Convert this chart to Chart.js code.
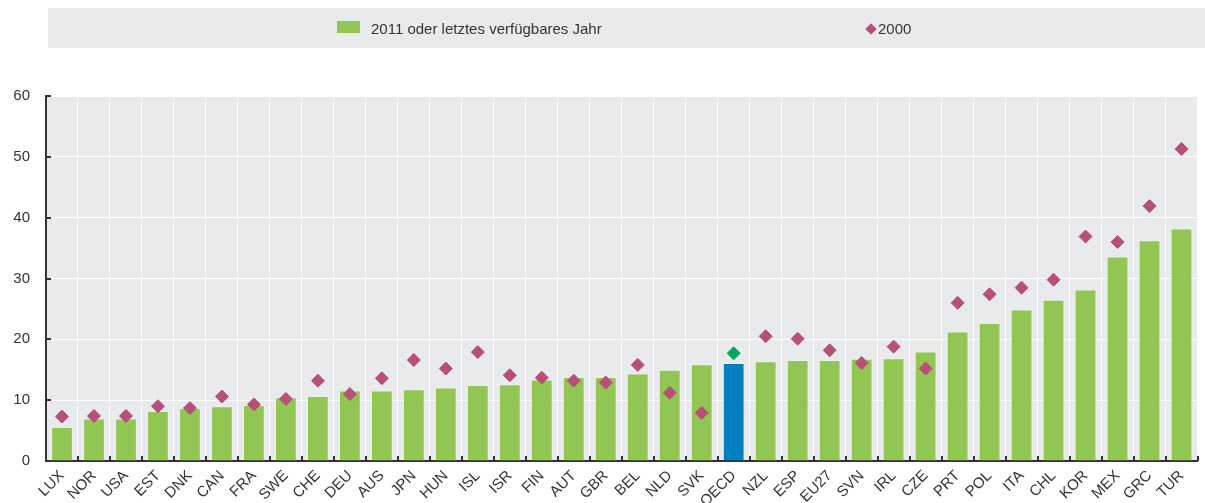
<!DOCTYPE html>
<html>
<head>
<meta charset="utf-8">
<script src="https://cdn.jsdelivr.net/npm/chart.js@4.4.1/dist/chart.umd.min.js"></script>
<style>
	body { margin: 0; background: #fff; }
	#wrap { position: relative; width: 1205px; height: 503px; overflow: hidden; }
	#chart { position: absolute; left: 0; top: 0; }
	#legend {
		position: absolute; left: 48px; top: 8px; width: 1157px; height: 40px;
		background: #e9eaec;
		font-family: "Liberation Sans", Arial, sans-serif;
		font-size: 15px; color: #333;
	}
	.item { position: absolute; top: 1px; height: 40px; line-height: 40px; white-space: nowrap; }
	.box { position: absolute; left: 289px; top: 13px; width: 23px; height: 12px; background: #92c653; }
	.dia { position: absolute; left: 819px; top: 17px; width: 8px; height: 8px; background: #b84f78; transform: rotate(45deg); }
</style>
</head>
<body>
<div id="wrap">
	<canvas id="chart" width="1205" height="503"></canvas>
	<div id="legend">
		<div class="box"></div>
		<div class="item" style="left:323px">2011 oder letztes verfügbares Jahr</div>
		<div class="dia"></div>
		<div class="item" style="left:830px">2000</div>
	</div>
</div>
<script>
const categories = ['LUX', 'NOR', 'USA', 'EST', 'DNK', 'CAN', 'FRA', 'SWE', 'CHE', 'DEU', 'AUS', 'JPN',
	'HUN', 'ISL', 'ISR', 'FIN', 'AUT', 'GBR', 'BEL', 'NLD', 'SVK', 'OECD', 'NZL', 'ESP',
	'EU27', 'SVN', 'IRL', 'CZE', 'PRT', 'POL', 'ITA', 'CHL', 'KOR', 'MEX', 'GRC', 'TUR'];

// 2011 oder letztes verfügbares Jahr
const values2011 = [5.6, 7.0, 7.0, 8.2, 8.7, 9.0, 9.2, 10.5, 10.7, 11.6, 11.6, 11.8,
	12.1, 12.5, 12.6, 13.4, 13.8, 13.8, 14.4, 15.0, 15.9, 16.1, 16.4, 16.6,
	16.6, 16.8, 16.9, 18.0, 21.3, 22.7, 24.9, 26.5, 28.2, 33.6, 36.3, 38.2];

// 2000
const values2000 = [7.3, 7.4, 7.4, 9.0, 8.7, 10.6, 9.3, 10.2, 13.2, 11.0, 13.6, 16.6,
	15.2, 17.9, 14.1, 13.7, 13.2, 12.9, 15.8, 11.2, 7.9, 17.7, 20.5, 20.1,
	18.2, 16.1, 18.8, 15.2, 26.0, 27.4, 28.5, 29.8, 36.9, 36.0, 41.9, 51.3];

const yTicks = [0, 10, 20, 30, 40, 50, 60];

const FONT = "'Liberation Sans', Arial, sans-serif";
const DARK = '#333333';

const barColors = categories.map(c => c === 'OECD' ? '#0080bf' : '#92c653');
const dotColors = categories.map(c => c === 'OECD' ? '#00a65e' : '#b84f78');

// grey plot background + short inward tick marks
const plotDeco = {
	id: 'plotDeco',
	beforeDraw(chart)
	{
		const a = chart.chartArea;
		const ctx = chart.ctx;
		ctx.save();
		ctx.fillStyle = '#e9eaec';
		ctx.fillRect(a.left, a.top, a.right - a.left, a.bottom - a.top);
		ctx.restore();
	},
	afterDatasetsDraw(chart)
	{
		const a = chart.chartArea;
		const ctx = chart.ctx;
		const xs = chart.scales.x;
		const ys = chart.scales.y;
		const step = xs.width / categories.length;
		ctx.save();
		ctx.strokeStyle = DARK;
		ctx.lineWidth = 2;
		ctx.beginPath();
		for (let i = 1; i <= categories.length; i++)
		{
			const x = Math.round(xs.getPixelForTick(i - 1) + step / 2);
			ctx.moveTo(x, a.bottom);
			ctx.lineTo(x, a.bottom - 5);
		}
		yTicks.forEach(v =>
		{
			const y = Math.round(ys.getPixelForValue(v));
			ctx.moveTo(a.left, y);
			ctx.lineTo(a.left + 5, y);
		});
		ctx.stroke();
		ctx.restore();
	}
};

new Chart(document.getElementById('chart'),
{
	data:
	{
		labels: categories,
		datasets: [
			{
				type: 'line',
				label: '2000',
				data: values2000,
				showLine: false,
				pointStyle: 'rectRot',
				pointRadius: 6.5,
				pointBorderWidth: 1,
				pointBackgroundColor: dotColors,
				pointBorderColor: dotColors,
				order: 0
			},
			{
				type: 'bar',
				label: '2011 oder letztes verfügbares Jahr',
				data: values2011,
				backgroundColor: barColors,
				borderColor: 'rgba(255,255,255,0.25)',
				borderWidth: 1,
				barPercentage: 0.68,
				categoryPercentage: 1.0,
				order: 1
			}
		]
	},
	options:
	{
		responsive: false,
		animation: false,
		layout: { padding: { top: 96, right: 0, left: 0, bottom: 0 } },
		plugins:
		{
			legend: { display: false },
			tooltip: { enabled: false }
		},
		scales:
		{
			x:
			{
				offset: true,
				grid: { color: '#ffffff', lineWidth: 1, offset: true, drawTicks: false },
				border: { color: DARK, width: 2 },
				ticks:
				{
					color: DARK,
					font: { family: FONT, size: 15 },
					minRotation: 45,
					maxRotation: 45,
					autoSkip: false,
					padding: 6
				},
				afterFit: (scale) => { scale.height = 42; }
			},
			y:
			{
				min: 0,
				max: 60,
				grid: { color: '#ffffff', lineWidth: 1, drawTicks: false },
				border: { color: DARK, width: 2 },
				ticks:
				{
					stepSize: 10,
					color: DARK,
					font: { family: FONT, size: 15 },
					padding: 16
				},
				afterFit: (scale) => { scale.width = 46; }
			}
		}
	},
	plugins: [plotDeco]
});
</script>
</body>
</html>
